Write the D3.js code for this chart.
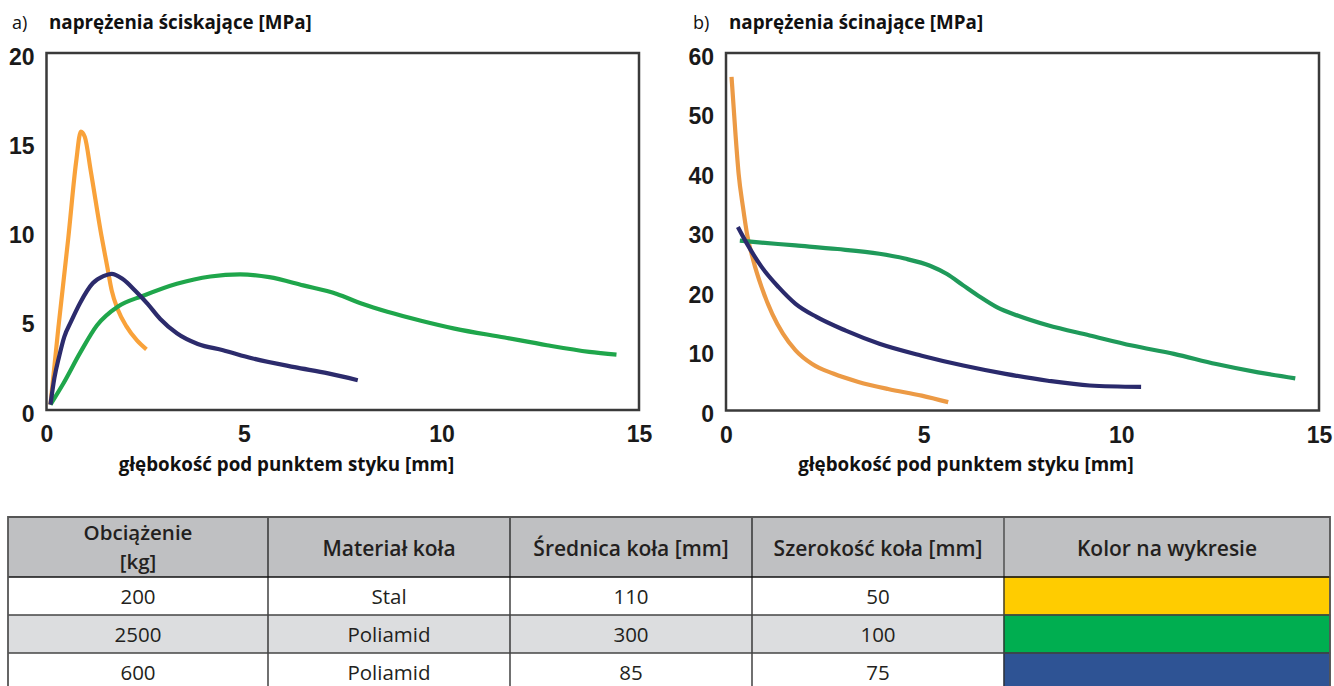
<!DOCTYPE html>
<html>
<head>
<meta charset="utf-8">
<script src="https://cdn.jsdelivr.net/npm/d3@7"></script>
<style>
  body { margin: 0; background: #fff; }
  svg { display: block; }
</style>
</head>
<body>
<div id="visu"></div>
<script>
// osie
var xTicks = [0, 5, 10, 15];
var yTicksA = [0, 5, 10, 15, 20];
var yTicksB = [0, 10, 20, 30, 40, 50, 60];

// a) naprezenia sciskajace [MPa]  -- [glebokosc mm, MPa]
var stalA = [[0.1, 0.3], [0.3, 4.6], [0.55, 9.6], [0.75, 13.9], [0.87, 15.6], [0.97, 15.3],
             [1.12, 13.4], [1.38, 9.9], [1.54, 8.0], [1.65, 6.7], [1.81, 5.6], [2.02, 4.7],
             [2.29, 3.9], [2.53, 3.4]];
var poliamid2500A = [[0.1, 0.3], [0.43, 1.5], [0.85, 3.2], [1.28, 4.75], [1.81, 5.8], [2.45, 6.4],
                     [3.3, 7.07], [4.15, 7.48], [4.9, 7.6], [5.64, 7.44], [6.5, 6.98], [7.35, 6.5],
                     [7.99, 5.95], [8.63, 5.5], [9.48, 5.0], [10.33, 4.56], [11.6, 4.06],
                     [12.67, 3.63], [13.74, 3.26], [14.43, 3.1]];
var poliamid600A = [[0.1, 0.3], [0.2, 1.8], [0.32, 3.0], [0.45, 4.1], [0.62, 4.95], [0.85, 6.0],
                    [1.17, 7.1], [1.44, 7.5], [1.65, 7.63], [1.92, 7.35], [2.24, 6.7], [2.56, 5.95],
                    [2.88, 5.1], [3.3, 4.3], [3.83, 3.7], [4.47, 3.35], [5.2, 2.9], [6.28, 2.4],
                    [7.13, 2.05], [7.88, 1.67]];

// b) naprezenia scinajace [MPa]
var stalB = [[0.14, 56], [0.24, 46.4], [0.32, 39.7], [0.43, 34.1], [0.53, 29.7], [0.69, 25.2],
             [0.9, 20.7], [1.17, 16.2], [1.44, 12.9], [1.76, 10.1], [2.18, 7.8], [2.71, 6.2],
             [3.35, 4.8], [4.1, 3.6], [4.95, 2.5], [5.62, 1.4]];
var poliamid2500B = [[0.35, 28.5], [0.69, 28.3], [1.76, 27.7], [2.82, 27.1], [3.88, 26.3],
                     [4.52, 25.5], [5.16, 24.3], [5.59, 22.9], [6.0, 21], [6.44, 19], [6.86, 17.3],
                     [7.39, 15.9], [8.14, 14.3], [9.2, 12.6], [10.27, 10.9], [11.33, 9.5],
                     [12.4, 7.8], [13.46, 6.4], [14.4, 5.4]];
var poliamid600B = [[0.3, 30.8], [0.53, 28], [0.9, 24.1], [1.33, 20.7], [1.76, 17.9], [2.29, 15.7],
                    [3.03, 13.4], [3.88, 11.2], [4.95, 9.2], [6.0, 7.55], [7.07, 6.15], [8.14, 5.0],
                    [9.2, 4.2], [10.5, 3.95]];

// tabela
var naglowki = [['Obciążenie', '[kg]'], ['Materiał koła'], ['Średnica koła [mm]'],
                ['Szerokość koła [mm]'], ['Kolor na wykresie']];
var obciazenia = ['200', '2500', '600'];
var materialy = ['Stal', 'Poliamid', 'Poliamid'];
var srednice = ['110', '300', '85'];
var szerokosci = ['50', '100', '75'];
var koloryTabeli = ['#ffcc00', '#00ae50', '#2e5394'];

var width = 1334,
    height = 686;

var svg = d3.select('#visu')
            .append('svg')
            .attr('width', width)
            .attr('height', height);

function wykres(opt) {
    var x = d3.scaleLinear().domain([0, 15]).range([opt.left, opt.right]);
    var y = d3.scaleLinear().domain([0, opt.ymax]).range([opt.bottom, opt.top]);
    var g = svg.append('g');

    // tytul
    g.append('text')
     .attr('x', opt.labelX).attr('y', 29)
     .style('font-family', 'Open Sans').style('font-size', '18px')
     .attr('fill', '#111')
     .text(opt.letter);
    g.append('text')
     .attr('x', opt.titleX).attr('y', 29)
     .style('font-family', 'Open Sans').style('font-size', '18.8px').style('font-weight', 700)
     .attr('fill', '#111')
     .text(opt.title);

    // ramka
    g.append('rect')
     .attr('x', x(0)).attr('y', y(opt.ymax))
     .attr('width', x(15) - x(0)).attr('height', y(0) - y(opt.ymax))
     .attr('fill', 'none').attr('stroke', '#3a3a3a').attr('stroke-width', 2.5);

    var yAxis = g.append('g')
                 .attr('transform', 'translate(' + (x(0) - 12) + ',0)')
                 .call(d3.axisLeft(y).tickValues(opt.yticks).tickSize(0).tickPadding(0));
    yAxis.select('.domain').remove();
    yAxis.selectAll('text')
         .attr('dy', 11)
         .style('font-family', 'Liberation Sans').style('font-size', '23px').style('font-weight', 700)
         .attr('fill', '#1a1a1a');

    var xAxis = g.append('g')
                 .attr('transform', 'translate(0,' + y(0) + ')')
                 .call(d3.axisBottom(x).tickValues(xTicks).tickSize(0).tickPadding(0));
    xAxis.select('.domain').remove();
    xAxis.selectAll('text')
         .attr('y', 32).attr('dy', 0)
         .style('font-family', 'Liberation Sans').style('font-size', '23px').style('font-weight', 700)
         .attr('fill', '#1a1a1a');

    g.append('text')
     .attr('x', x(0) + 240).attr('y', 471)
     .attr('text-anchor', 'middle')
     .style('font-family', 'Open Sans').style('font-size', '18.8px').style('font-weight', 700)
     .attr('fill', '#111')
     .text('głębokość pod punktem styku [mm]');

    var line = d3.line()
                 .x(function(d) { return x(d[0]); })
                 .y(function(d) { return y(d[1]); })
                 .curve(d3.curveMonotoneX);

    opt.series.forEach(function(s) {
        g.append('path')
         .datum(s.data)
         .attr('d', line)
         .attr('fill', 'none')
         .attr('stroke', s.color)
         .attr('stroke-width', 4.2)
         .attr('stroke-linejoin', 'round');
    });
}

wykres({
    left: 46.5, right: 639, top: 53, bottom: 410, ymax: 20, yticks: yTicksA,
    labelX: 12, titleX: 49, letter: 'a)', title: 'naprężenia ściskające [MPa]',
    series: [{data: stalA, color: '#f9a23a'},
             {data: poliamid2500A, color: '#1fa64b'},
             {data: poliamid600A, color: '#2c2b6c'}]
});

wykres({
    left: 726, right: 1319, top: 53, bottom: 410.5, ymax: 60, yticks: yTicksB,
    labelX: 693, titleX: 729, letter: 'b)', title: 'naprężenia ścinające [MPa]',
    series: [{data: stalB, color: '#ec9a45'},
             {data: poliamid2500B, color: '#1f9a5a'},
             {data: poliamid600B, color: '#2a2a6c'}]
});

// tabela pod wykresami
var kolX = [8, 268, 510, 752, 1004, 1330];
var wierszY = [517, 577, 615, 653, 691];
var tabela = svg.append('g');

tabela.append('rect')
      .attr('x', kolX[0]).attr('y', wierszY[0])
      .attr('width', kolX[5] - kolX[0]).attr('height', wierszY[1] - wierszY[0])
      .attr('fill', '#bfc0c2');
tabela.append('rect')
      .attr('x', kolX[0]).attr('y', wierszY[2])
      .attr('width', kolX[4] - kolX[0]).attr('height', wierszY[3] - wierszY[2])
      .attr('fill', '#dcdddf');

koloryTabeli.forEach(function(c, i) {
    tabela.append('rect')
          .attr('x', kolX[4]).attr('y', wierszY[i + 1])
          .attr('width', kolX[5] - kolX[4]).attr('height', wierszY[i + 2] - wierszY[i + 1])
          .attr('fill', c).attr('stroke', d3.color(c).darker(1.2)).attr('stroke-width', 1);
});

// linie
for (var i = 1; i < 5; i++) {
    tabela.append('line')
          .attr('x1', kolX[i]).attr('x2', kolX[i])
          .attr('y1', wierszY[0]).attr('y2', height)
          .attr('stroke', i == 4 ? '#333' : '#111').attr('stroke-width', 1.2);
}
for (var j = 1; j < 4; j++) {
    tabela.append('line')
          .attr('x1', kolX[0]).attr('x2', kolX[5])
          .attr('y1', wierszY[j]).attr('y2', wierszY[j])
          .attr('stroke', j == 1 ? '#111' : '#444').attr('stroke-width', j == 1 ? 1.6 : 1.4);
}
tabela.append('path')
      .attr('d', 'M' + kolX[0] + ',' + height + 'V' + wierszY[0] + 'H' + kolX[5] + 'V' + height)
      .attr('fill', 'none').attr('stroke', '#555').attr('stroke-width', 1.8);

naglowki.forEach(function(h, i) {
    var cx = (kolX[i] + kolX[i + 1]) / 2;
    var t = tabela.append('text')
                  .attr('x', cx)
                  .attr('text-anchor', 'middle')
                  .style('font-family', 'Open Sans').style('font-size', '21px').style('font-weight', 600)
                  .attr('fill', '#231f20');
    if (h.length == 1) {
        t.attr('y', 556).text(h[0]);
    } else {
        // dwie linie, odstep wiekszy niz wysokosc linii
        t.attr('y', 540).style('font-size', '20.5px').text(h[0]);
        tabela.append('text')
              .attr('x', cx).attr('y', 569)
              .attr('text-anchor', 'middle')
              .style('font-family', 'Open Sans').style('font-size', '20.5px').style('font-weight', 600)
              .attr('fill', '#231f20')
              .text(h[1]);
    }
});

var kolumny = [obciazenia, materialy, srednice, szerokosci];
kolumny.forEach(function(kol, i) {
    var cx = (kolX[i] + kolX[i + 1]) / 2;
    kol.forEach(function(v, r) {
        tabela.append('text')
              .attr('x', cx).attr('y', (wierszY[r + 1] + wierszY[r + 2]) / 2 + 8)
              .attr('text-anchor', 'middle')
              .style('font-family', 'Open Sans').style('font-size', '20.5px')
              .attr('fill', '#231f20')
              .text(v);
    });
});
</script>
</body>
</html>
